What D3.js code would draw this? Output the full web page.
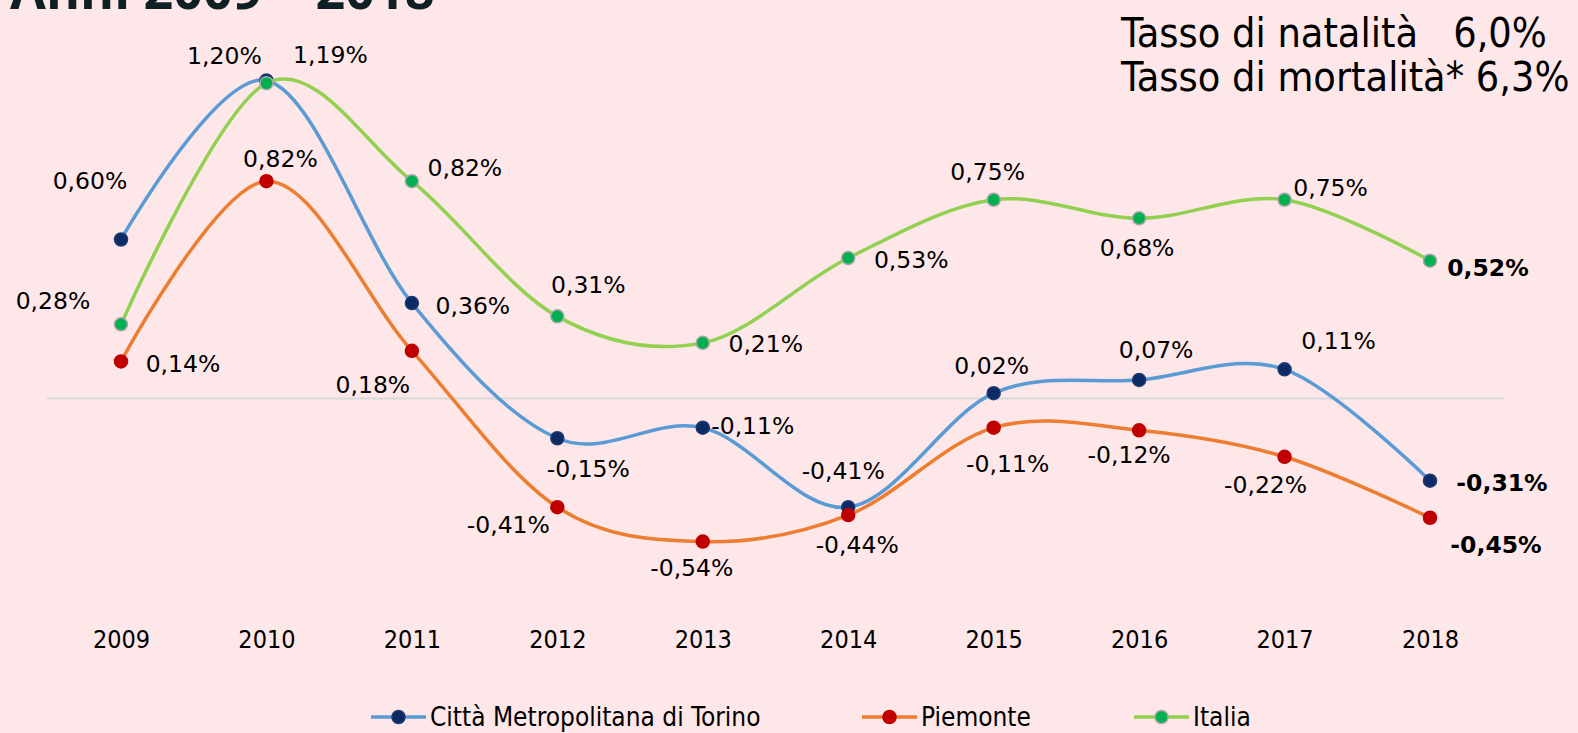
<!DOCTYPE html>
<html>
<head>
<meta charset="utf-8">
<script src="https://cdn.jsdelivr.net/npm/d3@7"></script>
<style>
  body { margin: 0; background: #fde7e8; }
  svg { display: block; }
</style>
</head>
<body>
<div id="chart"></div>
<script>
var width = 1578
var height = 733

// data
var years = ['2009', '2010', '2011', '2012', '2013', '2014', '2015', '2016', '2017', '2018'];
var torino = [0.60, 1.20, 0.36, -0.15, -0.11, -0.41, 0.02, 0.07, 0.11, -0.31];
var piemonte = [0.14, 0.82, 0.18, -0.41, -0.54, -0.44, -0.11, -0.12, -0.22, -0.45];
var italia = [0.28, 1.19, 0.82, 0.31, 0.21, 0.53, 0.75, 0.68, 0.75, 0.52];
var seriesNames = ['Città Metropolitana di Torino', 'Piemonte', 'Italia'];
var infoLines = ['Tasso di natalità   6,0%', 'Tasso di mortalità* 6,3%'];
var title = 'Anni 2009 – 2018';

// label offsets from the point (px)
var offTorino = [[-31,-59],[-42,-25],[61,2],[31,30],[50,-2],[-5,-37],[-2,-28],[17,-30],[54,-29],[72,2]];
var offPiemonte = [[62,2],[14,-23],[-39,34],[-49,17],[-11,26],[9,29],[14,36],[-10,24],[-19,28],[66,27]];
var offItalia = [[-68,-24],[64,-29],[53,-14],[31,-32],[63,1],[63,1],[-6,-28],[-2,29],[46,-12],[58,7]];

var series = [
  {name: seriesNames[0], values: torino, off: offTorino, line: '#5b9bd5', fill: '#0b2a66', stroke: '#1f3a6e'},
  {name: seriesNames[1], values: piemonte, off: offPiemonte, line: '#ed7d31', fill: '#c00000', stroke: '#c00000'},
  {name: seriesNames[2], values: italia, off: offItalia, line: '#92d050', fill: '#00b050', stroke: '#a6a6a6'}
];

var svg = d3.select('#chart')
            .append('svg')
            .attr('width', width)
            .attr('height', height);

svg.append('rect')
  .attr('width', width)
  .attr('height', height)
  .attr('fill', '#fde7e8');

var x = d3.scalePoint().domain(years).range([121, 1430]);
var y = d3.scaleLinear().domain([-0.6, 1.3]).range([557.5, 54]);

var locale = d3.formatLocale({decimal: ',', thousands: '.', grouping: [3], currency: ['', '€'], minus: '-'});
var f2 = locale.format('.2f');
function fmt(v) { return f2(v) + '%'; }

// title, cut at the top like the original slide
svg.append('text')
  .attr('x', 10)
  .attr('y', 9)
  .attr('font-family', 'Open Sans')
  .attr('font-weight', 'bold')
  .attr('font-size', 52)
  .attr('fill', '#0f2024')
  .text(title);

svg.selectAll('.info')
  .data(infoLines)
  .enter().append('text')
  .attr('class', 'info')
  .attr('x', 1121)
  .attr('y', function(d, i) { return 47 + i * 44; })
  .attr('font-family', 'DejaVu Sans Condensed')
  .attr('font-size', 41)
  .attr('fill', '#000')
  .style('white-space', 'pre')
  .text(function(d) { return d; });

// zero line
svg.append('line')
  .attr('x1', 47)
  .attr('x2', 1504)
  .attr('y1', y(0))
  .attr('y2', y(0))
  .attr('stroke', '#d9d9d9')
  .attr('stroke-width', 2);

// x axis labels
var xAxis = d3.axisBottom(x).tickSize(0).tickPadding(0);
var gx = svg.append('g')
  .attr('transform', 'translate(0,' + 630 + ')')
  .call(xAxis);
gx.select('.domain').remove();
gx.selectAll('text')
  .attr('font-family', 'DejaVu Sans Condensed')
  .attr('font-size', 25)
  .attr('fill', '#000');

var line = d3.line()
  .x(function(d, i) { return x(years[i]); })
  .y(function(d) { return y(d); })
  .curve(d3.curveCardinal.tension(0));

series.forEach(function(s) {
  var g = svg.append('g');
  g.append('path')
    .datum(s.values)
    .attr('d', line)
    .attr('fill', 'none')
    .attr('stroke', s.line)
    .attr('stroke-width', 3.5);

  g.selectAll('circle')
    .data(s.values)
    .enter().append('circle')
    .attr('cx', function(d, i) { return x(years[i]); })
    .attr('cy', function(d) { return y(d); })
    .attr('r', 6.5)
    .attr('fill', s.fill)
    .attr('stroke', s.stroke)
    .attr('stroke-width', 1.5);
});

series.forEach(function(s) {
  svg.append('g').selectAll('text')
    .data(s.values)
    .enter().append('text')
    .attr('x', function(d, i) { return x(years[i]) + s.off[i][0]; })
    .attr('y', function(d, i) { return y(d) + s.off[i][1]; })
    .attr('dy', '0.36em')
    .attr('text-anchor', 'middle')
    .attr('font-family', 'DejaVu Sans')
    .attr('font-size', 23.5)
    .attr('font-weight', function(d, i) { return i == years.length - 1 ? 'bold' : 'normal'; })
    .attr('fill', '#000')
    .text(function(d) { return fmt(d); });
});

// legend
var legendX = [371, 862, 1134];
var legend = svg.append('g')
  .selectAll('g')
  .data(series)
  .enter().append('g')
  .attr('transform', function(d, i) { return 'translate(' + legendX[i] + ',' + 717 + ')'; });

legend.append('line')
  .attr('x1', 0)
  .attr('x2', 55)
  .attr('stroke', function(d) { return d.line; })
  .attr('stroke-width', 3.5);

legend.append('circle')
  .attr('cx', 27.5)
  .attr('r', 6.5)
  .attr('fill', function(d) { return d.fill; })
  .attr('stroke', function(d) { return d.stroke; })
  .attr('stroke-width', 1.5);

legend.append('text')
  .attr('x', 59)
  .attr('dy', '0.33em')
  .attr('font-family', 'DejaVu Sans Condensed')
  .attr('font-size', 26)
  .attr('fill', '#000')
  .text(function(d) { return d.name; });
</script>
</body>
</html>
